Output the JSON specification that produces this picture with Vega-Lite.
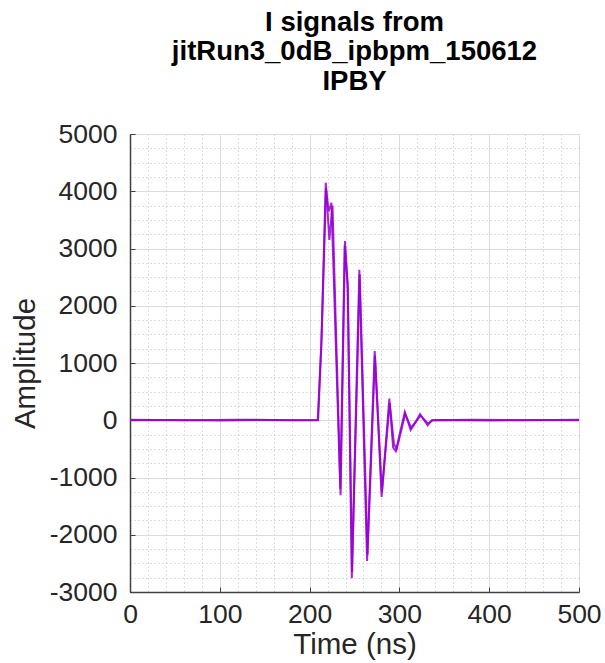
{
  "$schema": "https://vega.github.io/schema/vega-lite/v6.json",
  "width": 449,
  "height": 458,
  "autosize": "none",
  "padding": {"left": 130, "top": 134, "right": 26, "bottom": 71},
  "background": "white",
  "title": {
    "text": ["I signals from", "jitRun3_0dB_ipbpm_150612", "IPBY"],
    "font": "Liberation Sans",
    "fontSize": 27.5,
    "fontWeight": "bold",
    "lineHeight": 29.5,
    "color": "#000000",
    "anchor": "middle",
    "frame": "group",
    "offset": 26
  },
  "config": {
    "view": {"stroke": null},
    "axis": {"labelFont": "Liberation Sans", "titleFont": "Liberation Sans", "labelColor": "#262626", "titleColor": "#262626"}
  },
  "data": {
    "values": [
      {"trace": "A", "t": 0, "v": 0},
      {"trace": "A", "t": 50, "v": 5},
      {"trace": "A", "t": 100, "v": -5},
      {"trace": "A", "t": 150, "v": 5},
      {"trace": "A", "t": 209, "v": 0},
      {"trace": "A", "t": 213, "v": 1300},
      {"trace": "A", "t": 218, "v": 4150},
      {"trace": "A", "t": 222, "v": 3150},
      {"trace": "A", "t": 225.5, "v": 3750},
      {"trace": "A", "t": 234.5, "v": -1310},
      {"trace": "A", "t": 239.4, "v": 3130},
      {"trace": "A", "t": 242.3, "v": 2400},
      {"trace": "A", "t": 247, "v": -2760},
      {"trace": "A", "t": 255.4, "v": 2630},
      {"trace": "A", "t": 264, "v": -2460},
      {"trace": "A", "t": 272.5, "v": 1210},
      {"trace": "A", "t": 280.2, "v": -1340},
      {"trace": "A", "t": 288.8, "v": 380},
      {"trace": "A", "t": 293, "v": -480},
      {"trace": "A", "t": 296, "v": -540},
      {"trace": "A", "t": 306, "v": 145},
      {"trace": "A", "t": 312.5, "v": -170},
      {"trace": "A", "t": 317, "v": -60},
      {"trace": "A", "t": 323, "v": 105},
      {"trace": "A", "t": 331.5, "v": -90},
      {"trace": "A", "t": 336, "v": 0},
      {"trace": "A", "t": 350, "v": 5},
      {"trace": "A", "t": 400, "v": -5},
      {"trace": "A", "t": 450, "v": 5},
      {"trace": "A", "t": 500, "v": 0},
      {"trace": "B", "t": 0, "v": 10},
      {"trace": "B", "t": 60, "v": 0},
      {"trace": "B", "t": 120, "v": 10},
      {"trace": "B", "t": 180, "v": 0},
      {"trace": "B", "t": 209.5, "v": 5},
      {"trace": "B", "t": 213.5, "v": 1500},
      {"trace": "B", "t": 218.3, "v": 4050},
      {"trace": "B", "t": 221.3, "v": 3650},
      {"trace": "B", "t": 224.3, "v": 3800},
      {"trace": "B", "t": 234.2, "v": -1200},
      {"trace": "B", "t": 239.1, "v": 3050},
      {"trace": "B", "t": 242.6, "v": 2300},
      {"trace": "B", "t": 247.3, "v": -2650},
      {"trace": "B", "t": 255.8, "v": 2550},
      {"trace": "B", "t": 264.5, "v": -2350},
      {"trace": "B", "t": 272.8, "v": 1130},
      {"trace": "B", "t": 280.5, "v": -1250},
      {"trace": "B", "t": 289.2, "v": 300},
      {"trace": "B", "t": 294, "v": -420},
      {"trace": "B", "t": 297, "v": -500},
      {"trace": "B", "t": 306.5, "v": 110},
      {"trace": "B", "t": 313, "v": -130},
      {"trace": "B", "t": 323.5, "v": 80},
      {"trace": "B", "t": 332, "v": -60},
      {"trace": "B", "t": 337, "v": 0},
      {"trace": "B", "t": 380, "v": 10},
      {"trace": "B", "t": 440, "v": 0},
      {"trace": "B", "t": 500, "v": 10}
    ]
  },
  "layer": [
    {
      "mark": {"type": "line", "opacity": 0},
      "encoding": {
        "x": {"field": "t", "type": "quantitative", "scale": {"domain": [0, 500], "nice": false, "zero": false},
          "axis": {"orient": "bottom", "values": [20,40,60,80,120,140,160,180,220,240,260,280,320,340,360,380,420,440,460,480], "grid": true, "gridColor": "#bdbdbd", "gridDash": [1, 3], "gridWidth": 1, "labels": false, "ticks": false, "domain": false, "title": null}},
        "y": {"field": "v", "type": "quantitative", "scale": {"domain": [-3000, 5000], "nice": false, "zero": false},
          "axis": {"orient": "left", "values": [-2750,-2500,-2250,-1750,-1500,-1250,-750,-500,-250,250,500,750,1250,1500,1750,2250,2500,2750,3250,3500,3750,4250,4500,4750], "grid": true, "gridColor": "#bdbdbd", "gridDash": [1, 3], "gridWidth": 1, "labels": false, "ticks": false, "domain": false, "title": null}},
        "detail": {"field": "trace"}
      }
    },
    {
      "mark": {"type": "line", "strokeWidth": 2, "color": "#9600d2", "opacity": 0.85, "strokeJoin": "miter"},
      "encoding": {
        "x": {"field": "t", "type": "quantitative",
          "axis": {"orient": "bottom", "values": [0,100,200,300,400,500], "labelExpr": "'' + datum.value", "grid": true, "gridColor": "#dcdcdc", "gridWidth": 1, "domainColor": "#404040", "domainWidth": 1.5, "tickColor": "#404040", "tickSize": -5, "labelFontSize": 26.5, "labelPadding": 14, "labelFlush": false, "title": "Time (ns)", "titleFontSize": 29.5, "titleFontWeight": "normal", "titlePadding": 3}},
        "y": {"field": "v", "type": "quantitative",
          "axis": {"orient": "left", "values": [-3000,-2000,-1000,0,1000,2000,3000,4000,5000], "labelExpr": "'' + datum.value", "grid": true, "gridColor": "#dcdcdc", "gridWidth": 1, "domainColor": "#404040", "domainWidth": 1.5, "tickColor": "#404040", "tickSize": -5, "labelFontSize": 26.5, "labelPadding": 18, "labelFlush": false, "title": "Amplitude", "titleFontSize": 29.5, "titleFontWeight": "normal", "titlePadding": 9}},
        "detail": {"field": "trace"}
      }
    }
  ],
  "resolve": {"axis": {"x": "independent", "y": "independent"}}
}
